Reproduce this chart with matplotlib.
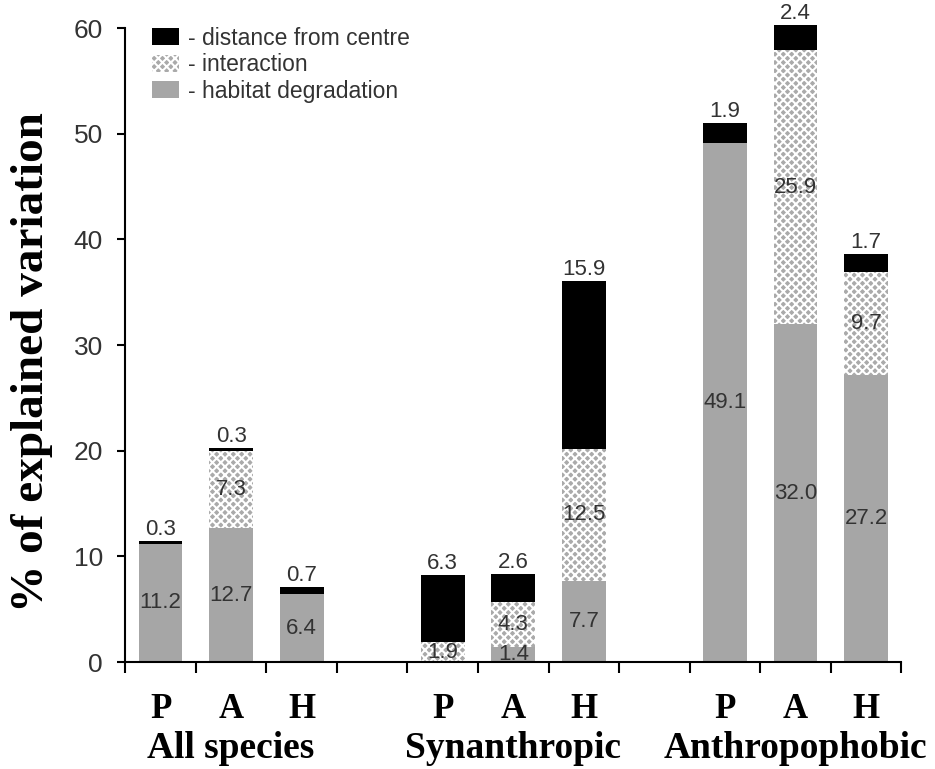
import numpy as np
import matplotlib
matplotlib.use('Agg')
import matplotlib.pyplot as plt
import matplotlib.patches as mpatches
import matplotlib.transforms as mtransforms

# Data
groups = ['All species', 'Synanthropic', 'Anthropophobic']
subgroups = ['P', 'A', 'H']
habitat = [11.2, 12.7, 6.4, 0.0, 1.4, 7.7, 49.1, 32.0, 27.2]
interaction = [0.0, 7.3, 0.0, 1.9, 4.3, 12.5, 0.0, 25.9, 9.7]
distance = [0.3, 0.3, 0.7, 6.3, 2.6, 15.9, 1.9, 2.4, 1.7]
yticks = [0, 10, 20, 30, 40, 50, 60]

plt.rcParams['hatch.linewidth'] = 1.5
sans = 'Liberation Sans'
serif = 'Liberation Serif'

# bar positions: three bars per group, one empty slot between groups
x = []
for g in range(len(groups)):
    for s in range(len(subgroups)):
        x.append(g * 4 + s)
x = np.array(x)
habitat = np.array(habitat)
interaction = np.array(interaction)
distance = np.array(distance)

fig = plt.figure(figsize=(9.35, 7.69), dpi=100)
ax = fig.add_axes([0.134, 0.139, 0.83, 0.8245])

w = 0.62
gray = '#a6a6a6'
hatch_face = '#aaaaaa'
ax.bar(x, habitat, w, color=gray, linewidth=0, clip_on=False)
ax.bar(x, interaction, w, bottom=habitat, facecolor=hatch_face, edgecolor='white',
       hatch='xxxx', linewidth=0, clip_on=False)
ax.bar(x, distance, w, bottom=habitat + interaction, color='black', linewidth=0, clip_on=False)

# value labels
lab_kw = dict(ha='center', va='center', fontsize=16, color='#333333', family=sans)
for i in range(len(x)):
    if habitat[i] > 0:
        ax.text(x[i], habitat[i] / 2, f'{habitat[i]:.1f}', **lab_kw)
    if interaction[i] > 0:
        ax.text(x[i], habitat[i] + interaction[i] / 2, f'{interaction[i]:.1f}', **lab_kw)
    top = habitat[i] + interaction[i] + distance[i]
    ax.text(x[i], top + 0.1, f'{distance[i]:.1f}', ha='center', va='bottom',
            fontsize=16, color='#333333', family=sans)

# axes
ax.set_xlim(-0.5, 10.5)
ax.set_ylim(0, 60)
ax.set_yticks(yticks)
ax.set_yticklabels([str(t) for t in yticks], fontsize=19, color='#333333', family=sans)
ax.tick_params(axis='y', direction='out', length=6, width=1.5, pad=10)

ax.set_xticks(x)
ax.set_xticklabels(subgroups * len(groups), fontsize=25, fontweight='bold', family=serif)
ax.set_xticks(np.arange(-0.5, 11, 1), minor=True)
ax.tick_params(axis='x', which='major', length=0, pad=22)
ax.tick_params(axis='x', which='minor', direction='out', length=8, width=1.5)

for side in ['top', 'right']:
    ax.spines[side].set_visible(False)
for side in ['left', 'bottom']:
    ax.spines[side].set_linewidth(1.5)

# group names under the P A H labels
trans = mtransforms.blended_transform_factory(ax.transData, ax.transAxes)
for g, name in enumerate(groups):
    ax.text(g * 4 + 1, -0.108, name, transform=trans, ha='center', va='top',
            fontsize=27, fontweight='bold', family=serif)

fig.text(0.034, 0.529, '% of explained variation', rotation=90, ha='center', va='center',
         fontsize=34, fontweight='bold', family=serif)

# legend
handles = [
    mpatches.Patch(facecolor='black', linewidth=0, label='- distance from centre'),
    mpatches.Patch(facecolor=hatch_face, edgecolor='white', hatch='xxxx', linewidth=0, label='- interaction'),
    mpatches.Patch(facecolor=gray, linewidth=0, label='- habitat degradation'),
]
leg = ax.legend(handles=handles, loc='upper left', bbox_to_anchor=(0.035, 1.002),
                frameon=False, borderpad=0, borderaxespad=0, labelspacing=0.15,
                handlelength=1.15, handleheight=0.75, handletextpad=0.4,
                prop={'family': sans, 'size': 16.5})
for t in leg.get_texts():
    t.set_color('#333333')

plt.savefig('out.png', dpi=100)
